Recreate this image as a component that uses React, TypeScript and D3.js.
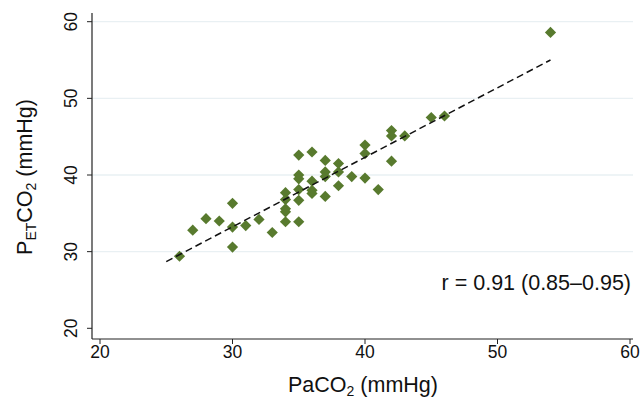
import React from 'react';
import * as d3 from 'd3';

// PaCO2 (x) and PETCO2 (y) pairs
const paco2 = [26, 27, 28, 29, 30, 30, 30, 31, 32, 33,
  34, 34, 34, 34, 34, 35, 35, 35, 35, 35, 35,
  36, 36, 36, 36, 37, 37, 37, 37, 38, 38, 38,
  39, 40, 40, 40, 41, 42, 42, 42, 43, 45, 46, 54];
const petco2 = [29.4, 32.8, 34.3, 34.0, 36.3, 33.2, 30.6, 33.4, 34.2, 32.5,
  37.7, 36.8, 35.6, 35.2, 33.9, 42.6, 40.0, 39.5, 38.1, 36.7, 33.9,
  43.0, 39.2, 38.0, 37.6, 41.9, 40.4, 39.8, 37.2, 41.5, 40.4, 38.6,
  39.8, 43.9, 42.8, 39.6, 38.1, 45.8, 45.1, 41.8, 45.1, 47.5, 47.7, 58.6];

// linear fit shown as dashed line
const fitRange = [25, 54];
const fitIntercept = 6.03;
const fitSlope = 0.907;

const xTicks = [20, 30, 40, 50, 60];
const yTicks = [20, 30, 40, 50, 60];
const gridTicks = [30, 40, 50, 60];

const font = 'Liberation Sans, Arial, Helvetica, sans-serif';

export default function App() {
  const W = 641, H = 407;
  const left = 92, bottom = 339, right = 633, top = 13;
  const x = d3.scaleLinear().domain([20, 60]).range([100, 630]);
  const y = d3.scaleLinear().domain([20, 60]).range([328.3, 21.7]);

  const fitLine = d3.line<number>()
    .x(d => x(d))
    .y(d => y(fitIntercept + fitSlope * d));

  const diamond = 'M0,-5.6L5.6,0L0,5.6L-5.6,0Z';

  return (
    <svg width={W} height={H} style={{ position: 'absolute', left: 0, top: 0 }} fontFamily={font}>
      <rect width={W} height={H} fill="#fff" />
      {gridTicks.map(t => (
        <line key={'g' + t} x1={left} x2={right} y1={y(t)} y2={y(t)} stroke="#e9f0f3" strokeWidth={1.3} />
      ))}
      <line x1={left} x2={left} y1={top} y2={bottom} stroke="#222" strokeWidth={1.2} />
      <line x1={left} x2={right} y1={bottom} y2={bottom} stroke="#222" strokeWidth={1.2} />
      {xTicks.map(t => (
        <g key={'x' + t}>
          <line x1={x(t)} x2={x(t)} y1={bottom} y2={bottom + 5} stroke="#222" />
          <text x={x(t)} y={358} textAnchor="middle" fontSize={17.5} fill="#111">{t}</text>
        </g>
      ))}
      {yTicks.map(t => (
        <g key={'y' + t}>
          <line x1={left - 5} x2={left} y1={y(t)} y2={y(t)} stroke="#222" />
          <text transform={`translate(77,${y(t)}) rotate(-90)`} textAnchor="middle" fontSize={17.5} fill="#111">{t}</text>
        </g>
      ))}
      {paco2.map((v, i) => (
        <path key={'p' + i} d={diamond} transform={`translate(${x(v)},${y(petco2[i])})`} fill="#587a2e" />
      ))}
      <path d={fitLine(fitRange) || ''} fill="none" stroke="#111" strokeWidth={1.5} strokeDasharray="7,4" />
      <text x={631} y={290} textAnchor="end" fontSize={21.5} fill="#111">r = 0.91 (0.85–0.95)</text>
      <text x={363} y={392} textAnchor="middle" fontSize={21.5} fill="#111">
        PaCO<tspan fontSize={14} dy={4}>2</tspan><tspan dy={-4}> (mmHg)</tspan>
      </text>
      <text transform="translate(32,177) rotate(-90)" textAnchor="middle" fontSize={21.5} fill="#111">
        P<tspan fontSize={14} dy={4}>ET</tspan><tspan dy={-4}>CO</tspan><tspan fontSize={14} dy={4}>2</tspan><tspan dy={-4}> (mmHg)</tspan>
      </text>
    </svg>
  );
}
